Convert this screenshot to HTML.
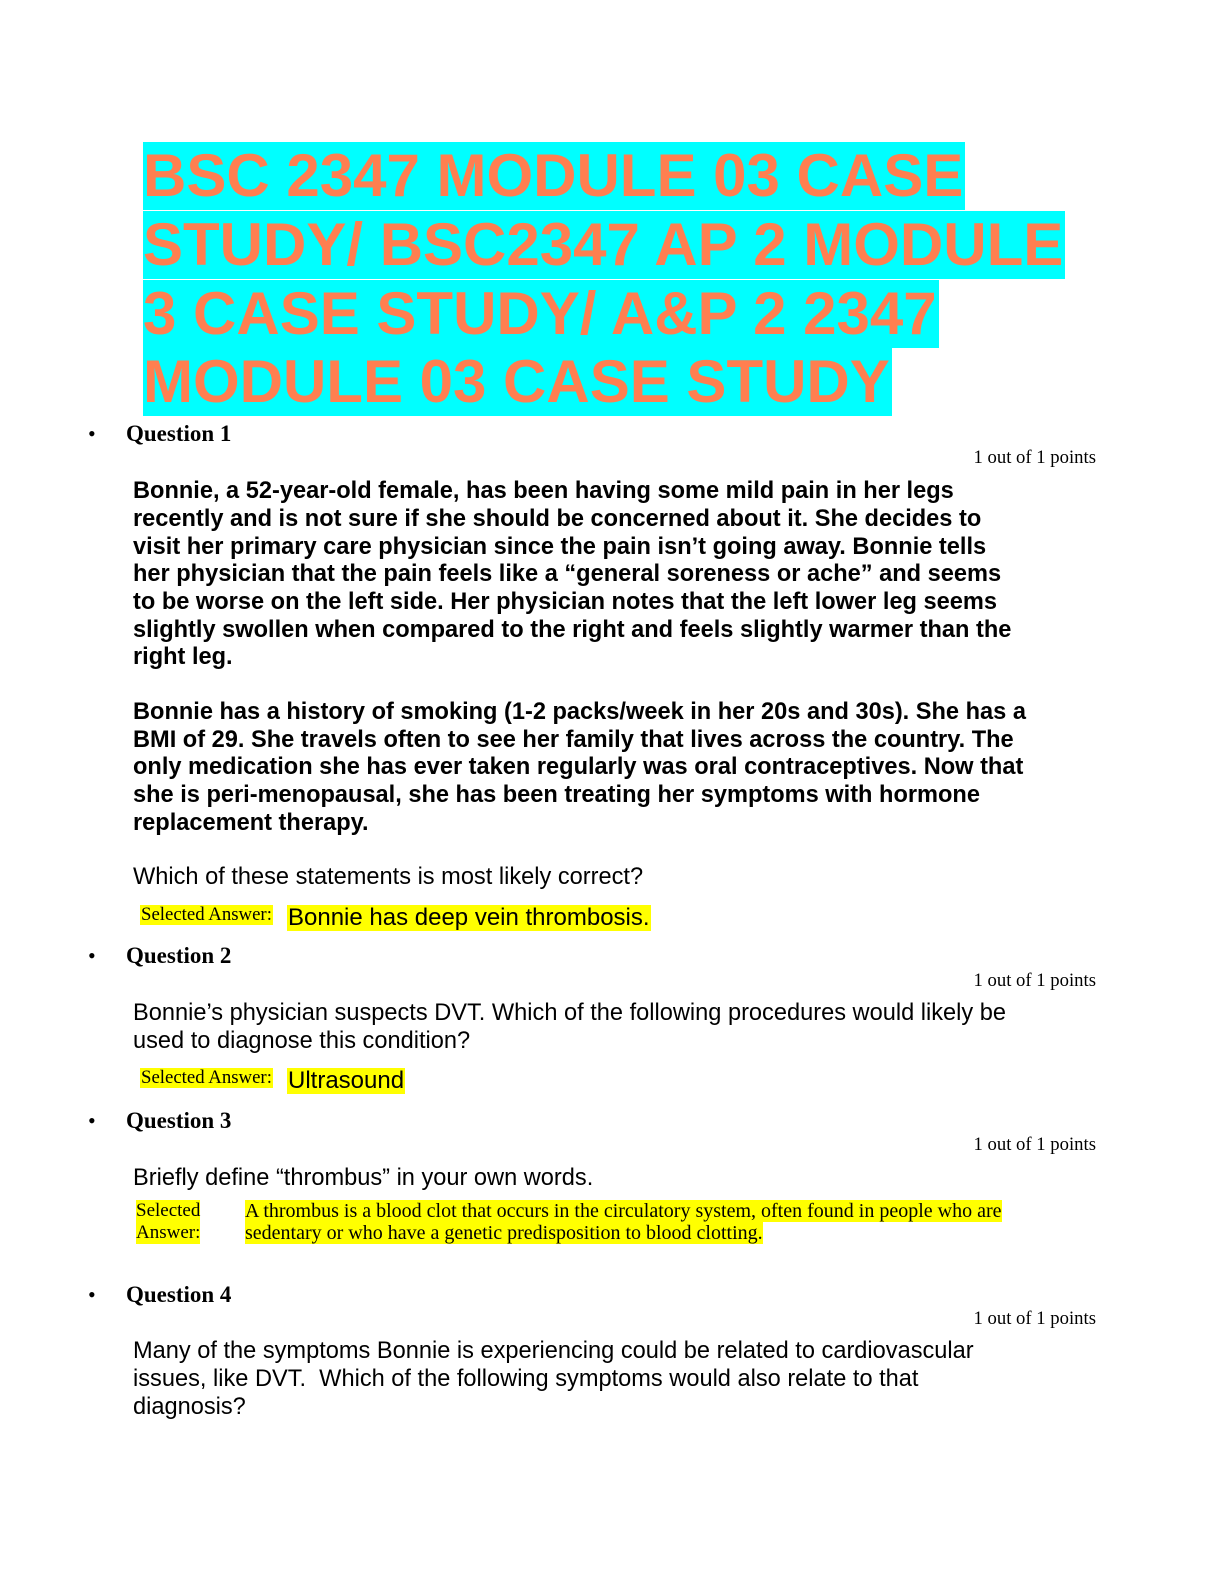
<!DOCTYPE html>
<html><head><meta charset="utf-8"><style>
body{margin:0;width:1224px;height:1584px;background:#fff;position:relative;overflow:hidden}
.a{position:absolute;white-space:nowrap}
.t{font:bold 60px/68px "Liberation Sans",sans-serif;color:#FF7F50;background:#00FFFF;left:143px;padding-right:2px}
.q{font:bold 23px/24px "Liberation Serif",serif;left:126px}
.b{left:88px;font:22px/24px "Liberation Serif",serif}
.p{font:18.7px/20px "Liberation Serif",serif;right:128px}
.x{font:bold 23.6px/26px "Liberation Sans",sans-serif;left:133px}
.n{font:23.6px/26px "Liberation Sans",sans-serif;left:133px}
.sa{font:18.8px/20px "Liberation Serif",serif;background:#ffff00;left:140px;padding:0 1px}
.ans{font:24px/26px "Liberation Sans",sans-serif;background:#ffff00;left:287px;padding:0 1px}
.y{background:#ffff00}
</style></head><body>
<div class="a t" style="top:142px">BSC 2347 MODULE 03 CASE</div>
<div class="a t" style="top:211px">STUDY/ BSC2347 AP 2 MODULE</div>
<div class="a t" style="top:280px">3 CASE STUDY/ A&amp;P 2 2347</div>
<div class="a t" style="top:348px">MODULE 03 CASE STUDY</div>

<div class="a b" style="top:422px">•</div><div class="a q" style="top:422px">Question 1</div>
<div class="a p" style="top:448px">1 out of 1 points</div>
<div class="a x" style="top:478px">Bonnie, a 52-year-old female, has been having some mild pain in her legs</div>
<div class="a x" style="top:506px">recently and is not sure if she should be concerned about it. She decides to</div>
<div class="a x" style="top:534px">visit her primary care physician since the pain isn’t going away. Bonnie tells</div>
<div class="a x" style="top:561px">her physician that the pain feels like a “general soreness or ache” and seems</div>
<div class="a x" style="top:589px">to be worse on the left side. Her physician notes that the left lower leg seems</div>
<div class="a x" style="top:617px">slightly swollen when compared to the right and feels slightly warmer than the</div>
<div class="a x" style="top:644px">right leg.</div>
<div class="a x" style="top:699px">Bonnie has a history of smoking (1-2 packs/week in her 20s and 30s). She has a</div>
<div class="a x" style="top:727px">BMI of 29. She travels often to see her family that lives across the country. The</div>
<div class="a x" style="top:754px">only medication she has ever taken regularly was oral contraceptives. Now that</div>
<div class="a x" style="top:782px">she is peri-menopausal, she has been treating her symptoms with hormone</div>
<div class="a x" style="top:810px">replacement therapy.</div>
<div class="a n" style="top:864px">Which of these statements is most likely correct?</div>
<div class="a sa" style="top:905px">Selected Answer:</div>
<div class="a ans" style="top:905px">Bonnie has deep vein thrombosis.</div>

<div class="a b" style="top:944px">•</div><div class="a q" style="top:944px">Question 2</div>
<div class="a p" style="top:971px">1 out of 1 points</div>
<div class="a n" style="top:1000px">Bonnie’s physician suspects DVT. Which of the following procedures would likely be</div>
<div class="a n" style="top:1028px">used to diagnose this condition?</div>
<div class="a sa" style="top:1068px">Selected Answer:</div>
<div class="a ans" style="top:1068px">Ultrasound</div>

<div class="a b" style="top:1109px">•</div><div class="a q" style="top:1109px">Question 3</div>
<div class="a p" style="top:1135px">1 out of 1 points</div>
<div class="a n" style="top:1165px">Briefly define “thrombus” in your own words.</div>
<div class="a" style="top:1200px;left:136px;font:19px/22px 'Liberation Serif',serif;width:64px;background:#ffff00">Selected<br>Answer:</div>
<div class="a" style="top:1200px;left:245px;font:20px/22px 'Liberation Serif',serif"><span class="y">A thrombus is a blood clot that occurs in the circulatory system, often found in people who are</span><br><span class="y">sedentary or who have a genetic predisposition to blood clotting.</span></div>

<div class="a b" style="top:1283px">•</div><div class="a q" style="top:1283px">Question 4</div>
<div class="a p" style="top:1309px">1 out of 1 points</div>
<div class="a n" style="top:1338px">Many of the symptoms Bonnie is experiencing could be related to cardiovascular</div>
<div class="a n" style="top:1366px">issues, like DVT.&nbsp; Which of the following symptoms would also relate to that</div>
<div class="a n" style="top:1394px">diagnosis?</div>
</body></html>
